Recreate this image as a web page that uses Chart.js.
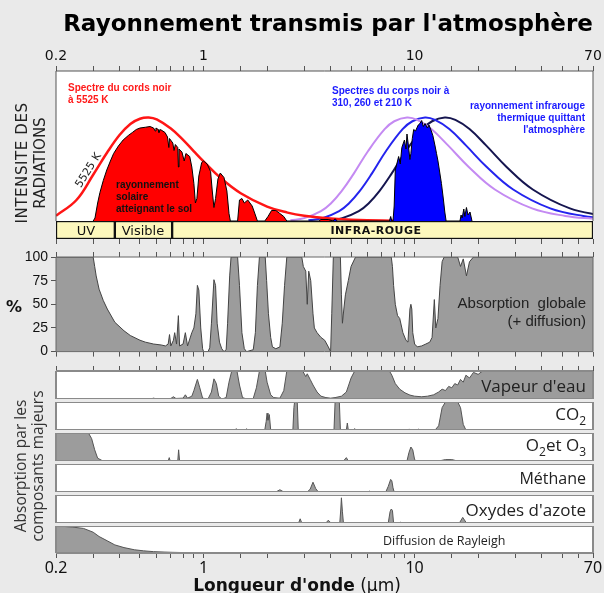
<!DOCTYPE html>
<html lang="fr">
<head>
<meta charset="utf-8">
<title>Rayonnement transmis par l'atmosphère</title>
<script src="https://cdn.jsdelivr.net/npm/chart.js@4.4.1/dist/chart.umd.min.js"></script>
<style>
  html, body { margin: 0; padding: 0; }
  body { width: 604px; height: 593px; background: #eaeaea; position: relative; overflow: hidden; font-family: 'DejaVu Sans', sans-serif; }
  canvas { position: absolute; left: 0; }
  .txt { position: absolute; white-space: nowrap; line-height: 1; }
  .rot { position: absolute; white-space: nowrap; transform: translate(-50%, -50%) rotate(-90deg); text-align: center; }
  .ann { position: absolute; white-space: nowrap; font: bold 10px 'Liberation Sans', sans-serif; line-height: 12px; }
  .comp { position: absolute; right: 18px; white-space: nowrap; font: 17px 'Open Sans', sans-serif; color: #222; line-height: 1; transform: translateY(-50%); }
</style>
</head>
<body>
<canvas id="cHaut" width="620" height="221" style="top:0"></canvas>
<canvas id="cBande" width="620" height="30" style="top:221px"></canvas>
<canvas id="cGlobal" width="620" height="118" style="top:245px"></canvas>
<canvas id="cEau" width="620" height="38" style="top:361px"></canvas>
<canvas id="cCO2" width="620" height="28" style="top:402px"></canvas>
<canvas id="cO3" width="620" height="28" style="top:433px"></canvas>
<canvas id="cCH4" width="620" height="28" style="top:464px"></canvas>
<canvas id="cNOx" width="620" height="28" style="top:495px"></canvas>
<canvas id="cRay" width="620" height="57" style="top:526px"></canvas>

<div class="txt" style="left:0;width:656px;top:10px;text-align:center;font:bold 23px 'DejaVu Sans';">Rayonnement transmis par l'atmosphère</div>

<div class="rot" style="left:22px;top:163px;font:15px 'DejaVu Sans';color:#222;letter-spacing:0.6px;">INTENSITE DES</div>
<div class="rot" style="left:40px;top:163px;font:15px 'DejaVu Sans';color:#222;">RADIATIONS</div>

<div class="ann" style="left:68px;top:82px;color:#ff1a1a;">Spectre du cords noir<br>à 5525 K</div>
<div class="txt" style="left:88px;top:170px;font:11px 'DejaVu Sans';color:#222;transform:translate(-50%,-50%) rotate(-58deg);">5525 K</div>
<div class="ann" style="left:116px;top:179px;color:#111;">rayonnement<br>solaire<br>atteignant le sol</div>
<div class="ann" style="left:332px;top:85px;color:#1a1aff;">Spectres du corps noir à<br>310, 260 et 210 K</div>
<div class="ann" style="right:19px;top:100px;color:#1a1aff;text-align:right;">rayonnement infrarouge<br>thermique quittant<br>l'atmosphère</div>

<div class="txt" style="left:86px;top:230px;transform:translate(-50%,-50%);font:13px 'DejaVu Sans';color:#111;">UV</div>
<div class="txt" style="left:143px;top:230px;transform:translate(-50%,-50%);font:13px 'DejaVu Sans';color:#111;">Visible</div>
<div class="txt" style="left:376px;top:230px;transform:translate(-50%,-50%);font:bold 11px 'DejaVu Sans';color:#111;letter-spacing:0.5px;">INFRA-ROUGE</div>

<div class="txt" style="left:14px;top:306px;transform:translate(-50%,-50%);font:bold 16px 'DejaVu Sans';color:#111;">%</div>
<div class="txt" style="right:18px;top:294px;font:15px 'Liberation Sans';color:#222;text-align:right;line-height:18px;">Absorption&nbsp; globale<br>(+ diffusion)</div>

<div class="rot" style="left:20px;top:466px;font:15.5px 'Open Sans';color:#333;">Absorption par les</div>
<div class="rot" style="left:37px;top:466px;font:15.5px 'Open Sans';color:#333;">composants majeurs</div>

<div class="comp" style="top:385px;">Vapeur d'eau</div>
<div class="comp" style="top:416px;">CO<sub style="font-size:12px;">2</sub></div>
<div class="comp" style="top:447px;">O<sub style="font-size:12px;">2</sub>et O<sub style="font-size:12px;">3</sub></div>
<div class="comp" style="top:478px;font-size:16px;">Méthane</div>
<div class="comp" style="top:509px;">Oxydes d'azote</div>
<div class="txt" style="left:383px;top:540px;transform:translateY(-50%);font:12.5px 'Open Sans';color:#222;">Diffusion de Rayleigh</div>

<div class="txt" style="left:297px;top:585px;transform:translate(-50%,-50%);font:17px 'DejaVu Sans';color:#111;"><b>Longueur d'onde</b> (µm)</div>

<script>
// axe des longueurs d'onde (µm)
const lambdaMin = 0.2;
const lambdaMax = 70;
const etiquettesX = [0.2, 1, 10, 70];
const ticksPourcent = [0, 25, 50, 75, 100];

// bandes UV / Visible / Infra-rouge
const nomsBandes = ['UV', 'Visible', 'INFRA-ROUGE'];
const bornesBandes = [0.2, 0.38, 0.71, 70];

// corps noir 5525 K
const cn5525Lambda = [0.2, 0.25, 0.3, 0.35, 0.4, 0.45, 0.5, 0.55, 0.6, 0.7, 0.8, 0.9, 1.0, 1.2, 1.5, 2, 2.5, 3, 4, 5, 7, 10];
const cn5525Val = [3.5, 14, 30.8, 45.8, 57.3, 64.7, 68.2, 69, 67.7, 61.6, 54.1, 46.4, 39.7, 28.9, 18.5, 9.6, 5.6, 3.5, 1.6, 0.9, 0.3, 0.1];

// corps noir 310 K, 260 K, 210 K
const cn310Lambda = [2.58, 3.0, 3.6, 4.01, 4.51, 5.15, 6.01, 7.21, 8.01, 9.2, 10.3, 12.0, 14.4, 18.0, 24.0, 36.0, 51.7, 72];
const cn310Val = [0.5, 1.9, 6.6, 11.7, 19.9, 31.6, 46.5, 61.2, 66.5, 69, 67.4, 61.3, 50.4, 36.2, 21.0, 8.4, 3.4, 1.4];
const cn260Lambda = [3.14, 3.66, 4.39, 4.88, 5.49, 6.27, 7.31, 8.77, 9.76, 11.2, 12.5, 14.6, 17.5, 21.9, 29.3, 43.9, 63, 87.7];
const cn260Val = [0.5, 1.9, 6.6, 11.7, 19.9, 31.6, 46.5, 61.2, 66.5, 69, 67.4, 61.3, 50.4, 36.2, 21.0, 8.4, 3.4, 1.4];
const cn210Lambda = [3.89, 4.54, 5.44, 6.05, 6.81, 7.78, 9.08, 10.9, 12.1, 13.9, 15.6, 18.2, 21.8, 27.2, 36.3, 54.4, 78.2];
const cn210Val = [0.5, 1.9, 6.6, 11.7, 19.9, 31.6, 46.5, 61.2, 66.5, 69, 67.4, 61.3, 50.4, 36.2, 21.0, 8.4, 3.4];

// rayonnement solaire atteignant le sol
const solLambda = [0.3, 0.306, 0.315, 0.323, 0.335, 0.348, 0.362, 0.375, 0.395, 0.416, 0.44, 0.46, 0.48, 0.5, 0.53, 0.558, 0.58, 0.59, 0.595, 0.61, 0.615, 0.625, 0.657, 0.675, 0.685, 0.69, 0.715, 0.725, 0.735, 0.755, 0.76, 0.765, 0.79, 0.81, 0.825, 0.86, 0.88, 0.9, 0.915, 0.93, 0.95, 0.98, 1.0, 1.04, 1.08, 1.1, 1.12, 1.14, 1.17, 1.2, 1.25, 1.29, 1.32, 1.34, 1.45, 1.48, 1.52, 1.56, 1.62, 1.7, 1.76, 1.8, 1.95, 2.02, 2.1, 2.2, 2.3, 2.4, 2.48, 3.5, 3.6, 3.9, 4.1];
const solVal = [0, 2, 12, 19, 27, 34, 40, 45, 50, 54, 57, 59, 61, 62, 62.5, 63, 62, 60, 62, 61, 59, 61, 59, 56, 49, 55, 52, 47, 51, 49, 36, 48, 46, 40, 45, 43, 36, 25, 12, 15, 30, 39, 40, 38, 33, 20, 9, 15, 28, 32, 29, 20, 5, 0, 0, 14, 15, 12, 14, 10, 4, 0, 0, 3, 7, 7, 5, 3, 0, 0, 1, 1, 0];

// rayonnement infrarouge thermique quittant l'atmosphère
const irLambda = [4.1, 4.2, 4.3, 7.6, 7.7, 7.8, 7.9, 8.0, 8.1, 8.3, 8.4, 8.55, 8.7, 8.85, 8.95, 9.1, 9.2, 9.35, 9.5, 9.6, 9.75, 9.9, 10.1, 10.4, 10.6, 10.8, 11.0, 11.2, 11.5, 11.7, 12.0, 12.2, 12.5, 12.7, 12.9, 13.1, 13.4, 13.7, 13.9, 14.1, 16.4, 16.6, 16.8, 17.1, 17.3, 17.6, 17.9, 18.3, 18.7];
const irVal = [0, 1.5, 0, 0, 3, 0, 0, 10, 34, 40, 43, 38, 49, 52, 54, 48, 58, 50, 41, 45, 55, 61, 60, 64, 65, 67, 63, 65, 62, 64, 60, 57, 50, 45, 40, 34, 25, 14, 6, 0, 0, 4, 2, 8, 3, 9, 4, 6, 0];

// absorption globale (+ diffusion), %
const absLambda = [0.2, 0.3, 0.305, 0.31, 0.32, 0.335, 0.35, 0.38, 0.42, 0.45, 0.5, 0.53, 0.58, 0.63, 0.66, 0.68, 0.69, 0.7, 0.72, 0.73, 0.745, 0.76, 0.77, 0.8, 0.82, 0.84, 0.88, 0.9, 0.92, 0.935, 0.95, 0.97, 0.99, 1.0, 1.05, 1.07, 1.09, 1.12, 1.14, 1.16, 1.19, 1.22, 1.25, 1.28, 1.3, 1.33, 1.35, 1.45, 1.48, 1.52, 1.56, 1.6, 1.72, 1.76, 1.8, 1.84, 1.96, 1.99, 2.03, 2.08, 2.12, 2.2, 2.3, 2.36, 2.42, 2.48, 2.92, 2.97, 3.05, 3.1, 3.15, 3.22, 3.3, 3.35, 3.45, 3.6, 3.75, 3.9, 4.0, 4.05, 4.12, 4.45, 4.5, 4.55, 4.62, 4.7, 4.85, 5.0, 5.25, 7.75, 7.85, 7.95, 8.1, 8.3, 8.5, 8.8, 9.1, 9.3, 9.5, 9.6, 9.7, 9.8, 10.0, 10.3, 10.8, 11.3, 11.8, 12.1, 12.4, 12.6, 12.9, 13.2, 13.5, 13.8, 16.0, 16.5, 17.0, 17.6, 18.2, 19, 70];
const absVal = [100, 100, 90, 80, 66, 54, 45, 31, 22, 17, 12, 10, 8, 7, 6, 8, 18, 6, 12, 20, 8, 38, 6, 8, 20, 6, 20, 25, 40, 70, 65, 25, 3, 0, 0, 4, 30, 76, 70, 30, 10, 3, 0, 2, 30, 80, 100, 100, 70, 20, 3, 0, 2, 20, 70, 100, 100, 75, 40, 15, 5, 3, 5, 30, 70, 100, 100, 90, 85, 50, 85, 75, 40, 25, 20, 15, 12, 5, 0, 40, 100, 100, 60, 30, 45, 60, 75, 90, 100, 100, 90, 70, 50, 38, 35, 20, 12, 10, 45, 50, 45, 20, 8, 5, 6, 8, 10, 15, 55, 25, 35, 70, 95, 100, 100, 90, 98, 80, 95, 100, 100];

// composants majeurs, % d'absorption
const eauLambda = [0.2, 0.56, 0.58, 0.6, 0.65, 0.7, 0.72, 0.74, 0.8, 0.82, 0.84, 0.88, 0.9, 0.935, 0.96, 0.99, 1.05, 1.09, 1.12, 1.15, 1.18, 1.22, 1.28, 1.32, 1.36, 1.44, 1.48, 1.53, 1.6, 1.72, 1.78, 1.84, 1.96, 2.0, 2.08, 2.15, 2.3, 2.4, 2.48, 2.95, 3.05, 3.1, 3.2, 3.3, 3.45, 3.6, 3.8, 4.0, 4.2, 4.5, 4.75, 5.0, 5.2, 7.6, 7.8, 8.1, 8.5, 9.0, 9.5, 10.0, 10.8, 11.5, 12.3, 13.0, 13.5, 14.0, 14.5, 15.0, 15.5, 16.0, 16.5, 17, 17.5, 18.2, 19, 20, 21, 70];
const eauVal = [0, 0, 3, 0, 1, 2, 8, 2, 3, 15, 3, 10, 30, 70, 40, 3, 0, 25, 72, 55, 10, 0, 5, 60, 100, 100, 50, 5, 0, 2, 40, 100, 100, 60, 15, 5, 3, 30, 100, 100, 80, 90, 70, 50, 25, 10, 5, 3, 5, 10, 25, 75, 100, 100, 85, 55, 35, 22, 14, 10, 8, 10, 15, 25, 35, 30, 45, 40, 55, 50, 70, 60, 85, 75, 95, 88, 100, 100];
const co2Lambda = [0.2, 1.4, 1.43, 1.46, 1.57, 1.6, 1.63, 1.95, 1.98, 2.0, 2.02, 2.05, 2.08, 2.65, 2.68, 2.7, 2.78, 2.81, 4.15, 4.2, 4.4, 4.45, 4.75, 4.8, 4.85, 5.15, 5.2, 5.25, 9.3, 9.4, 9.6, 10.3, 10.4, 10.6, 12.5, 13.0, 13.5, 14.0, 16.0, 16.5, 17.0, 17.5, 70];
const co2Val = [0, 0, 4, 0, 0, 4, 0, 0, 30, 60, 35, 55, 0, 0, 80, 100, 100, 0, 0, 100, 100, 0, 0, 25, 0, 0, 5, 0, 0, 3, 0, 0, 3, 0, 0, 15, 80, 100, 100, 80, 20, 0, 0];
const o3Lambda = [0.2, 0.285, 0.295, 0.305, 0.315, 0.33, 0.35, 0.68, 0.688, 0.695, 0.755, 0.762, 0.77, 1.26, 1.27, 1.28, 4.6, 4.75, 4.85, 9.2, 9.4, 9.6, 9.8, 10.0, 10.2, 13, 14, 15, 16, 70];
const o3Val = [100, 100, 80, 40, 10, 2, 0, 0, 12, 0, 0, 40, 0, 0, 3, 0, 0, 12, 0, 0, 30, 50, 40, 5, 0, 0, 5, 5, 0, 0];
const ch4Lambda = [0.2, 2.2, 2.3, 2.4, 3.1, 3.2, 3.3, 3.4, 3.5, 6.0, 6.1, 6.3, 7.3, 7.5, 7.7, 7.8, 7.9, 8.0, 70];
const ch4Val = [0, 0, 8, 0, 0, 10, 35, 12, 0, 0, 3, 0, 0, 20, 45, 40, 15, 0, 0];
const noxLambda = [0.2, 2.82, 2.87, 2.92, 3.8, 3.9, 3.97, 4.05, 4.42, 4.47, 4.5, 4.55, 4.6, 7.5, 7.65, 7.75, 7.85, 7.95, 8.5, 8.6, 8.7, 16.3, 16.9, 17.6, 70];
const noxVal = [0, 0, 15, 0, 0, 10, 3, 0, 0, 50, 90, 40, 0, 0, 40, 50, 45, 0, 0, 3, 0, 0, 20, 0, 0];
const rayLambda = [0.2, 0.22, 0.24, 0.27, 0.3, 0.32, 0.35, 0.38, 0.42, 0.47, 0.52, 0.58, 0.65, 0.71, 0.87, 1.0, 1.5, 70];
const rayVal = [98, 98, 96, 91, 77, 61, 45, 30, 20, 12, 8, 5, 3.5, 2.5, 1, 0.5, 0, 0];

const GRIS = '#9c9c9c';

function paires(xs, ys) {
  return xs.map((x, i) => ({ x: x, y: ys[i] }));
}

// fond blanc + cadre autour de la zone du graphique
const cadre = {
  id: 'cadre',
  beforeDraw(chart, args, o) {
    if (!o.fond) return;
    const a = chart.chartArea, ctx = chart.ctx;
    ctx.save();
    ctx.fillStyle = o.fond;
    ctx.fillRect(a.left, a.top, a.right - a.left, a.bottom - a.top);
    ctx.restore();
  },
  afterDraw(chart, args, o) {
    if (!o.couleur) return;
    const a = chart.chartArea, ctx = chart.ctx;
    const cotes = o.cotes || 'tlrb';
    ctx.save();
    ctx.strokeStyle = o.couleur;
    ctx.lineWidth = o.epaisseur || 1;
    ctx.beginPath();
    if (cotes.includes('t')) { ctx.moveTo(a.left, a.top); ctx.lineTo(a.right, a.top); }
    if (cotes.includes('b')) { ctx.moveTo(a.left, a.bottom); ctx.lineTo(a.right, a.bottom); }
    if (cotes.includes('l')) { ctx.moveTo(a.left, a.top); ctx.lineTo(a.left, a.bottom); }
    if (cotes.includes('r')) { ctx.moveTo(a.right, a.top); ctx.lineTo(a.right, a.bottom); }
    ctx.stroke();
    ctx.restore();
  }
};
Chart.register(cadre);

function axeLog(position, hauteur, marques, etiquettes, police) {
  return {
    type: 'logarithmic', min: lambdaMin, max: lambdaMax, position: position,
    display: marques,
    grid: { drawOnChartArea: false, drawTicks: true, tickLength: 5, color: '#555' },
    border: { display: false },
    ticks: {
      display: etiquettes, autoSkip: false, maxRotation: 0, padding: 1, color: '#111',
      font: police || { family: 'DejaVu Sans', size: 14 },
      callback: v => etiquettesX.some(t => Math.abs(t - v) < 1e-6 * t) ? String(v) : ''
    },
    afterFit: s => { s.height = hauteur; }
  };
}

function baseOptions(scales, cadreOpts, padGauche) {
  return {
    responsive: false, animation: false, events: [],
    layout: { padding: { left: padGauche, right: 27, top: 0, bottom: 0 } },
    plugins: { legend: { display: false }, tooltip: { enabled: false }, cadre: cadreOpts },
    scales: scales
  };
}

function ligne(xs, ys, couleur, epaisseur) {
  return { data: paires(xs, ys), borderColor: couleur, borderWidth: epaisseur, pointRadius: 0, tension: 0.4, fill: false };
}
function surface(xs, ys, couleur, bord) {
  return { data: paires(xs, ys), backgroundColor: couleur, borderColor: bord, borderWidth: 1, pointRadius: 0, tension: 0, fill: 'origin' };
}

// panneau du haut : spectres
new Chart(document.getElementById('cHaut'), {
  type: 'line',
  data: {
    datasets: [
      surface(solLambda, solVal, '#ff0000', '#000'),
      surface(irLambda, irVal, '#0000ff', '#000'),
      ligne(cn5525Lambda, cn5525Val, '#ff1515', 2.5),
      ligne(cn310Lambda, cn310Val, '#c48af2', 2),
      ligne(cn260Lambda, cn260Val, '#2424ee', 2),
      ligne(cn210Lambda, cn210Val, '#15154f', 2)
    ]
  },
  options: baseOptions({
    x: { type: 'logarithmic', min: lambdaMin, max: lambdaMax, display: false },
    x2: axeLog('top', 71, true, true, { family: 'DejaVu Sans', size: 14 }),
    y: { min: 0, max: 100, display: false }
  }, { fond: '#fff', couleur: '#555', epaisseur: 1, cotes: 'tlr' }, 56)
});

// bandes UV / Visible / Infra-rouge
new Chart(document.getElementById('cBande'), {
  type: 'bar',
  data: {
    labels: [''],
    datasets: nomsBandes.map((n, i) => ({
      label: n,
      data: [[bornesBandes[i], bornesBandes[i + 1]]],
      backgroundColor: '#fdf8bd', borderColor: '#111', borderWidth: 1.5, borderSkipped: false,
      barPercentage: 1, categoryPercentage: 1, grouped: false
    }))
  },
  options: Object.assign(baseOptions({
    x: axeLog('bottom', 12, true, false),
    y: { type: 'category', display: false }
  }, {}, 56), { indexAxis: 'y' })
});

// absorption globale
new Chart(document.getElementById('cGlobal'), {
  type: 'line',
  data: { datasets: [surface(absLambda, absVal, GRIS, '#444')] },
  options: baseOptions({
    x: axeLog('bottom', 10, true, false),
    x2: axeLog('top', 12, true, false),
    y: {
      min: 0, max: 100, position: 'left',
      afterBuildTicks: s => { s.ticks = ticksPourcent.map(v => ({ value: v })); },
      ticks: { color: '#111', padding: 3, font: { family: 'Liberation Sans', size: 14 } },
      grid: { drawOnChartArea: false, tickLength: 5, color: '#555' },
      border: { display: false },
      afterFit: s => { s.width = 56; }
    }
  }, { fond: '#fff', couleur: '#666', epaisseur: 1 }, 0)
});

// composants majeurs
function panneau(id, xs, ys, axes) {
  const scales = Object.assign({
    x: { type: 'logarithmic', min: lambdaMin, max: lambdaMax, display: false },
    y: { min: 0, max: 100, display: false }
  }, axes || {});
  return new Chart(document.getElementById(id), {
    type: 'line',
    data: { datasets: [surface(xs, ys, GRIS, '#555')] },
    options: baseOptions(scales, { fond: '#fff', couleur: '#8a8a8a', epaisseur: 2 }, 56)
  });
}

panneau('cEau', eauLambda, eauVal, { x2: axeLog('top', 10, true, false) });
panneau('cCO2', co2Lambda, co2Val);
panneau('cO3', o3Lambda, o3Val);
panneau('cCH4', ch4Lambda, ch4Val);
panneau('cNOx', noxLambda, noxVal);
panneau('cRay', rayLambda, rayVal, { x: axeLog('bottom', 30, true, true, { family: 'Noto Sans', size: 16 }) });
</script>
</body>
</html>
